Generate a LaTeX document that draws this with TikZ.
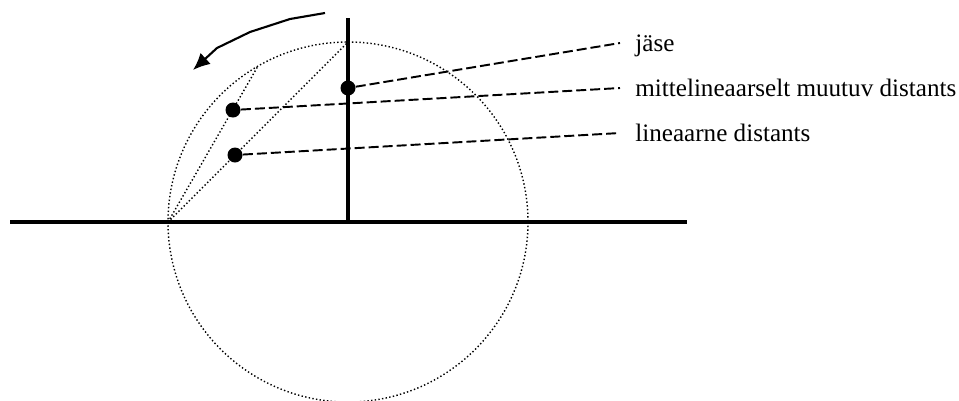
\documentclass[tikz,border=0pt]{standalone}
\usepackage{fontspec}
\setmainfont{Liberation Serif}
\usepackage{tikz}
\usetikzlibrary{arrows.meta,calc,positioning}

\begin{document}
\begin{tikzpicture}[x=0.02cm,y=-0.02cm,>=Latex,
  dot/.style={circle,fill,inner sep=0pt,minimum size=0.3cm},
  lbl/.style={anchor=west,inner xsep=0.3cm,text depth=0pt,
    font=\fontsize{14.3}{17}\selectfont},
  lead/.style={dash pattern=on 0.2cm off 0.08cm,line width=1.1pt},
  thin dots/.style={dash pattern=on .8pt off 1.3pt,line width=.8pt},
  bar/.style={line width=2.4pt}]
\useasboundingbox (0,0) rectangle (959,400);
% circle with two chords from its left end
\coordinate (c) at (348,222);
\coordinate (w) at (168,222);
\coordinate (top) at (348,42);
\coordinate (p) at (258,66);
\draw[thin dots] (c) circle (180);
\draw[thin dots] (w)--(top) (w)--(p);
% ground line and stem
\coordinate (g1) at (10,222);
\coordinate (g2) at (687,222);
\coordinate (s) at (348,18);
\draw[bar] (g1)--(g2);
\draw[bar] (s)--(c);
% turning arrow
\draw[-{Latex[length=0.34cm,width=0.3cm]},line width=1.2pt]
  plot coordinates {(325,13) (290,19) (250,32) (217,48) (193,70)};
% points and labels
\node[dot] (jase) at (348,88) {};
\node[dot] (mid) at (233,110) {};
\node[dot] (lin) at (235,155) {};
\node[lbl] (jaseL) at (620,43) {jäse};
\node[lbl] (midL) at (620,88) {mittelineaarselt muutuv distants};
\node[lbl] (linL) at (620,133) {lineaarne distants};
\foreach \a/\b in {jase/jaseL,mid/midL,lin/linL}
  \draw[lead] (\a)--(\b.west);
\end{tikzpicture}
\end{document}
